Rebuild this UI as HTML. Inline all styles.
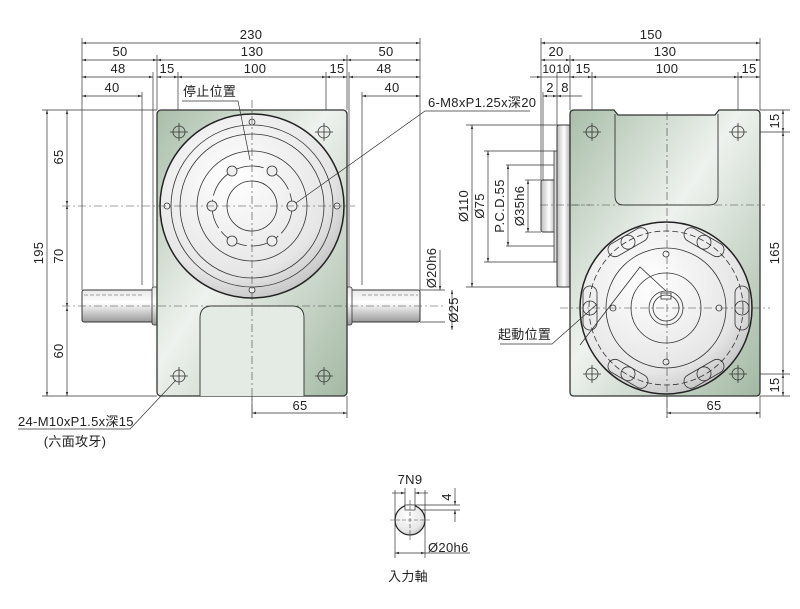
<!DOCTYPE html>
<html><head><meta charset="utf-8"><style>
html,body{margin:0;padding:0;background:#fff;}
svg{display:block;}
text{font-family:"Liberation Sans","Noto Sans CJK TC",sans-serif;font-size:13px;fill:#222;letter-spacing:0.3px;}
</style></head><body>
<svg width="800" height="609" viewBox="0 0 800 609" xmlns="http://www.w3.org/2000/svg">
<defs>
<linearGradient id="body" x1="0" y1="0" x2="1" y2="1">
<stop offset="0" stop-color="#a9bea9"/><stop offset="0.45" stop-color="#eef2ee"/><stop offset="1" stop-color="#a3b8a3"/>
</linearGradient>
<radialGradient id="disc" cx="0.4" cy="0.35" r="0.75">
<stop offset="0" stop-color="#ffffff"/><stop offset="0.7" stop-color="#e6e6e6"/><stop offset="1" stop-color="#b8b8b8"/>
</radialGradient>
<linearGradient id="shaft" x1="0" y1="0" x2="0" y2="1">
<stop offset="0" stop-color="#e8e8e8"/><stop offset="0.4" stop-color="#ffffff"/><stop offset="1" stop-color="#9a9a9a"/>
</linearGradient>
<linearGradient id="shaftv" x1="0" y1="0" x2="1" y2="0">
<stop offset="0" stop-color="#bdbdbd"/><stop offset="0.5" stop-color="#ffffff"/><stop offset="1" stop-color="#a5a5a5"/>
</linearGradient>
<marker id="a" viewBox="0 0 10 10" refX="10" refY="5" markerWidth="6" markerHeight="6" orient="auto-start-reverse"><path d="M0,2 L10,5 L0,8z" fill="#333"/></marker>
</defs>

<g stroke="#333" stroke-width="0.7" fill="none">
<line x1="82" y1="38" x2="82" y2="290"/>
<line x1="420" y1="38" x2="420" y2="290"/>
<line x1="157" y1="55" x2="157" y2="110"/>
<line x1="347" y1="55" x2="347" y2="110"/>
<line x1="153" y1="72" x2="153" y2="290"/>
<line x1="349" y1="72" x2="349" y2="290"/>
<line x1="178" y1="72" x2="178" y2="125"/>
<line x1="326" y1="72" x2="326" y2="125"/>
<line x1="142" y1="92" x2="142" y2="285"/>
<line x1="362" y1="92" x2="362" y2="285"/>
<line x1="82" y1="43" x2="420" y2="43" marker-start="url(#a)" marker-end="url(#a)"/>
<line x1="82" y1="60" x2="157" y2="60" marker-start="url(#a)" marker-end="url(#a)"/>
<line x1="157" y1="60" x2="347" y2="60" marker-start="url(#a)" marker-end="url(#a)"/>
<line x1="347" y1="60" x2="420" y2="60" marker-start="url(#a)" marker-end="url(#a)"/>
<line x1="82" y1="77" x2="153" y2="77" marker-start="url(#a)" marker-end="url(#a)"/>
<line x1="157" y1="77" x2="178" y2="77" marker-start="url(#a)" marker-end="url(#a)"/>
<line x1="178" y1="77" x2="326" y2="77" marker-start="url(#a)" marker-end="url(#a)"/>
<line x1="326" y1="77" x2="347" y2="77" marker-start="url(#a)" marker-end="url(#a)"/>
<line x1="349" y1="77" x2="420" y2="77" marker-start="url(#a)" marker-end="url(#a)"/>
<line x1="82" y1="96" x2="142" y2="96" marker-start="url(#a)" marker-end="url(#a)"/>
<line x1="362" y1="96" x2="420" y2="96" marker-start="url(#a)" marker-end="url(#a)"/>
<line x1="42" y1="110" x2="157" y2="110"/>
<line x1="42" y1="396" x2="157" y2="396"/>
<line x1="47" y1="110" x2="47" y2="396" marker-start="url(#a)" marker-end="url(#a)"/>
<line x1="67" y1="110" x2="67" y2="205" marker-start="url(#a)" marker-end="url(#a)"/>
<line x1="67" y1="205" x2="67" y2="307" marker-start="url(#a)" marker-end="url(#a)"/>
<line x1="67" y1="307" x2="67" y2="396" marker-start="url(#a)" marker-end="url(#a)"/>
<line x1="252" y1="396" x2="252" y2="418"/>
<line x1="347" y1="396" x2="347" y2="418"/>
<line x1="252" y1="413" x2="347" y2="413" marker-start="url(#a)" marker-end="url(#a)"/>
</g>

<rect x="82" y="290" width="72" height="32" rx="2" fill="url(#shaft)" stroke="#333" stroke-width="1"/>
<rect x="152" y="287" width="6" height="38" rx="2" fill="url(#shaft)" stroke="#333" stroke-width="0.8"/>
<rect x="349" y="290" width="71" height="32" rx="2" fill="url(#shaft)" stroke="#333" stroke-width="1"/>
<rect x="346" y="287" width="6" height="38" rx="2" fill="url(#shaft)" stroke="#333" stroke-width="0.8"/>
<g stroke="#555" stroke-width="0.6" stroke-dasharray="4,2" fill="none">
<line x1="84" y1="295" x2="142" y2="295"/><line x1="362" y1="295" x2="418" y2="295"/>
</g>

<rect x="157" y="110" width="190" height="286" rx="4" fill="url(#body)" stroke="#333" stroke-width="1.3"/>
<path d="M200,396 V318 Q200,306 212,306 H292 Q304,306 304,318 V396" fill="#e4ebe4" stroke="#333" stroke-width="0.9"/>
<circle cx="252" cy="206" r="92" fill="url(#disc)" stroke="#222" stroke-width="1.5"/>
<g fill="none" stroke="#333" stroke-width="0.8">
<circle cx="252" cy="206" r="81"/>
<circle cx="252" cy="206" r="72"/>
<circle cx="252" cy="206" r="55"/>
<circle cx="252" cy="206" r="40" stroke-dasharray="30,4"/>
<circle cx="252" cy="206" r="25"/>
</g>
<g fill="#eee" stroke="#333" stroke-width="0.8">
<circle cx="212" cy="206" r="5"/><circle cx="292" cy="206" r="5"/>
<circle cx="232" cy="171" r="5"/><circle cx="272" cy="171" r="5"/>
<circle cx="232" cy="241" r="5"/><circle cx="272" cy="241" r="5"/>
<circle cx="252" cy="122" r="3"/><circle cx="252" cy="290" r="3"/>
<circle cx="167" cy="206" r="3"/><circle cx="337" cy="206" r="3"/>
</g>
<g fill="none" stroke="#333" stroke-width="0.8">
<circle cx="179" cy="132" r="6"/><circle cx="324" cy="132" r="6"/>
<circle cx="179" cy="376" r="6"/><circle cx="324" cy="376" r="6"/>
<path d="M170,132h18M179,123v18M315,132h18M324,123v18M170,376h18M179,367v18M315,376h18M324,367v18"/>
</g>
<g stroke="#444" stroke-width="0.6" stroke-dasharray="8,3,2,3" fill="none">
<line x1="252" y1="100" x2="252" y2="420"/>
<line x1="62" y1="206" x2="355" y2="206"/>
<line x1="62" y1="306" x2="445" y2="306"/>
</g>
<g stroke="#333" stroke-width="0.7" fill="none">
<polyline points="182,101 238,101 250,160"/>
<polyline points="530,111 425,111 296,203"/>
<polyline points="18,429 130,429 176,380"/>
<line x1="420" y1="290" x2="445" y2="290"/>
<line x1="420" y1="322" x2="445" y2="322"/>
<line x1="440" y1="250" x2="440" y2="290" marker-end="url(#a)"/>
<line x1="452" y1="290" x2="452" y2="330" marker-start="url(#a)" marker-end="url(#a)"/>
</g>

<g stroke="#333" stroke-width="0.7" fill="none">
<line x1="541" y1="38" x2="541" y2="180"/>
<line x1="760" y1="38" x2="760" y2="110"/>
<line x1="570" y1="55" x2="570" y2="110"/>
<line x1="557" y1="72" x2="557" y2="125"/>
<line x1="592" y1="72" x2="592" y2="125"/>
<line x1="738" y1="72" x2="738" y2="125"/>
<line x1="543" y1="92" x2="543" y2="180"/>
<line x1="541" y1="43" x2="760" y2="43" marker-start="url(#a)" marker-end="url(#a)"/>
<line x1="541" y1="60" x2="570" y2="60" marker-start="url(#a)" marker-end="url(#a)"/>
<line x1="570" y1="60" x2="760" y2="60" marker-start="url(#a)" marker-end="url(#a)"/>
<line x1="530" y1="77" x2="541" y2="77" marker-end="url(#a)"/>
<line x1="541" y1="77" x2="557" y2="77"/>
<line x1="557" y1="77" x2="570" y2="77"/>
<line x1="570" y1="77" x2="592" y2="77" marker-start="url(#a)" marker-end="url(#a)"/>
<line x1="592" y1="77" x2="738" y2="77" marker-start="url(#a)" marker-end="url(#a)"/>
<line x1="738" y1="77" x2="760" y2="77" marker-start="url(#a)" marker-end="url(#a)"/>
<line x1="543" y1="96" x2="557" y2="96" marker-start="url(#a)" marker-end="url(#a)"/>
<line x1="557" y1="96" x2="582" y2="96" marker-start="url(#a)"/>
<line x1="466" y1="125" x2="558" y2="125"/><line x1="466" y1="287" x2="558" y2="287"/>
<line x1="472" y1="125" x2="472" y2="287" marker-start="url(#a)" marker-end="url(#a)"/>
<line x1="484" y1="151" x2="555" y2="151"/><line x1="484" y1="262" x2="555" y2="262"/>
<line x1="488" y1="151" x2="488" y2="262" marker-start="url(#a)" marker-end="url(#a)"/>
<line x1="506" y1="165" x2="556" y2="165"/><line x1="506" y1="246" x2="556" y2="246"/>
<line x1="508" y1="165" x2="508" y2="246" marker-start="url(#a)" marker-end="url(#a)"/>
<line x1="525" y1="180" x2="541" y2="180"/><line x1="525" y1="232" x2="541" y2="232"/>
<line x1="528" y1="180" x2="528" y2="232" marker-start="url(#a)" marker-end="url(#a)"/>
<line x1="760" y1="110" x2="790" y2="110"/><line x1="745" y1="132" x2="790" y2="132"/>
<line x1="745" y1="374" x2="790" y2="374"/><line x1="760" y1="396" x2="790" y2="396"/>
<line x1="783" y1="110" x2="783" y2="132" marker-start="url(#a)" marker-end="url(#a)"/>
<line x1="783" y1="132" x2="783" y2="374" marker-start="url(#a)" marker-end="url(#a)"/>
<line x1="783" y1="374" x2="783" y2="396" marker-start="url(#a)" marker-end="url(#a)"/>
<line x1="667" y1="396" x2="667" y2="418"/><line x1="760" y1="396" x2="760" y2="418"/>
<line x1="667" y1="413" x2="760" y2="413" marker-start="url(#a)" marker-end="url(#a)"/>
</g>
<rect x="541" y="180" width="16" height="52" rx="2" fill="url(#shaftv)" stroke="#333" stroke-width="0.9"/>
<rect x="554" y="151" width="5" height="111" fill="#ddd" stroke="#333" stroke-width="0.8"/>
<rect x="557" y="125" width="14" height="162" rx="2" fill="url(#shaftv)" stroke="#333" stroke-width="1"/>
<path d="M570,114 Q570,110 574,110 H614 L618,115 H715 L719,110 H756 Q760,110 760,114 V392 Q760,396 756,396 H574 Q570,396 570,392Z" fill="url(#body)" stroke="#333" stroke-width="1.3"/>
<path d="M615,114 V196 Q615,205 624,205 H709 Q718,205 718,196 V114" fill="none" stroke="#333" stroke-width="0.9"/>
<circle cx="666" cy="308" r="86" fill="url(#disc)" stroke="#222" stroke-width="1.5"/>
<g fill="none" stroke="#333" stroke-width="0.8">
<circle cx="666" cy="308" r="77" stroke-dasharray="6,3"/>
<circle cx="666" cy="308" r="60"/>
<circle cx="666" cy="308" r="35"/>
<circle cx="666" cy="308" r="17"/>
<circle cx="666" cy="308" r="13"/>
<rect x="661" y="293" width="10" height="6"/>
<polyline points="580,345 640,267 666,291"/>
</g>
<g fill="none" stroke="#333" stroke-width="0.8">
<g transform="translate(666,308) rotate(0)"><rect x="69" y="-22" width="14" height="44" rx="7"/><circle cx="76" cy="0" r="7"/></g>
<g transform="translate(666,308) rotate(60)"><rect x="69" y="-22" width="14" height="44" rx="7"/><circle cx="76" cy="0" r="7"/></g>
<g transform="translate(666,308) rotate(120)"><rect x="69" y="-22" width="14" height="44" rx="7"/><circle cx="76" cy="0" r="7"/></g>
<g transform="translate(666,308) rotate(180)"><rect x="69" y="-22" width="14" height="44" rx="7"/><circle cx="76" cy="0" r="7"/></g>
<g transform="translate(666,308) rotate(240)"><rect x="69" y="-22" width="14" height="44" rx="7"/><circle cx="76" cy="0" r="7"/></g>
<g transform="translate(666,308) rotate(300)"><rect x="69" y="-22" width="14" height="44" rx="7"/><circle cx="76" cy="0" r="7"/></g>
<circle cx="666" cy="254" r="3"/><circle cx="666" cy="362" r="3"/>
<circle cx="613" cy="308" r="3"/><circle cx="719" cy="308" r="3"/>
<circle cx="592" cy="132" r="6"/><circle cx="738" cy="132" r="6"/>
<circle cx="592" cy="374" r="6"/><circle cx="738" cy="374" r="6"/>
<path d="M583,132h18M592,123v18M729,132h18M738,123v18M583,374h18M592,365v18M729,374h18M738,365v18"/>
</g>
<g stroke="#444" stroke-width="0.6" stroke-dasharray="8,3,2,3" fill="none">
<line x1="667" y1="112" x2="667" y2="418"/>
<line x1="570" y1="205" x2="765" y2="205"/>
<line x1="560" y1="308" x2="770" y2="308"/>
<line x1="540" y1="205" x2="590" y2="205"/>
</g>
<polyline points="500,344 552,344 596,305" fill="none" stroke="#333" stroke-width="0.7"/>

<g stroke="#333" stroke-width="0.7" fill="none">
<line x1="395" y1="490" x2="395" y2="558"/>
<line x1="425" y1="490" x2="425" y2="558"/>
<line x1="405" y1="488" x2="405" y2="510"/>
<line x1="415" y1="488" x2="415" y2="510"/>
<line x1="392" y1="493" x2="405" y2="493" marker-end="url(#a)"/>
<line x1="428" y1="493" x2="415" y2="493" marker-end="url(#a)"/>
<line x1="415" y1="505" x2="460" y2="505"/>
<line x1="415" y1="510" x2="460" y2="510"/>
<line x1="455" y1="488" x2="455" y2="505" marker-end="url(#a)"/>
<line x1="455" y1="522" x2="455" y2="510" marker-end="url(#a)"/>
<line x1="395" y1="553" x2="425" y2="553" marker-start="url(#a)" marker-end="url(#a)"/>
<line x1="425" y1="553" x2="470" y2="553"/>
</g>
<circle cx="410" cy="520" r="15" fill="url(#disc)" stroke="#222" stroke-width="1.2"/>
<rect x="405" y="505" width="10" height="5" fill="#fff" stroke="#333" stroke-width="0.7"/>
<g stroke="#444" stroke-width="0.6" stroke-dasharray="4,2" fill="none"><line x1="410" y1="500" x2="410" y2="540"/><line x1="390" y1="520" x2="430" y2="520"/></g>

<g text-anchor="middle">
<text x="251" y="39">230</text>
<text x="120" y="56">50</text><text x="252" y="56">130</text><text x="386" y="56">50</text>
<text x="118" y="73">48</text><text x="167" y="73">15</text><text x="255" y="73">100</text><text x="337" y="73">15</text><text x="384" y="73">48</text>
<text x="112" y="92">40</text><text x="392" y="92">40</text>
<text x="300" y="410">65</text>
<text x="651" y="39">150</text>
<text x="556" y="56">20</text><text x="665" y="56">130</text>
<text x="549" y="73" style="font-size:12px;letter-spacing:0">10</text><text x="563" y="73" style="font-size:12px;letter-spacing:0">10</text><text x="583" y="73">15</text><text x="667" y="73">100</text><text x="749" y="73">15</text>
<text x="550" y="92">2</text><text x="565" y="92">8</text>
<text x="714" y="410">65</text>
<text x="410" y="484">7N9</text>
<text x="408" y="581">入力軸</text>
<text x="75" y="446">(六面攻牙)</text>
</g>
<text x="183" y="96">停止位置</text>
<text x="428" y="107">6-M8xP1.25x深20</text>
<text x="18" y="426">24-M10xP1.5x深15</text>
<text x="498" y="339">起動位置</text>
<text x="428" y="552">Ø20h6</text>
<g text-anchor="middle">
<text transform="translate(43,253) rotate(-90)">195</text>
<text transform="translate(63,157) rotate(-90)">65</text>
<text transform="translate(63,256) rotate(-90)">70</text>
<text transform="translate(63,351) rotate(-90)">60</text>
<text transform="translate(436,268) rotate(-90)">Ø20h6</text>
<text transform="translate(458,310) rotate(-90)">Ø25</text>
<text transform="translate(468,206) rotate(-90)">Ø110</text>
<text transform="translate(484,206) rotate(-90)">Ø75</text>
<text transform="translate(504,206) rotate(-90)">P.C.D.55</text>
<text transform="translate(524,206) rotate(-90)">Ø35h6</text>
<text transform="translate(779,121) rotate(-90)">15</text>
<text transform="translate(779,253) rotate(-90)">165</text>
<text transform="translate(779,385) rotate(-90)">15</text>
<text transform="translate(451,497) rotate(-90)">4</text>
</g>
</svg>
</body></html>
